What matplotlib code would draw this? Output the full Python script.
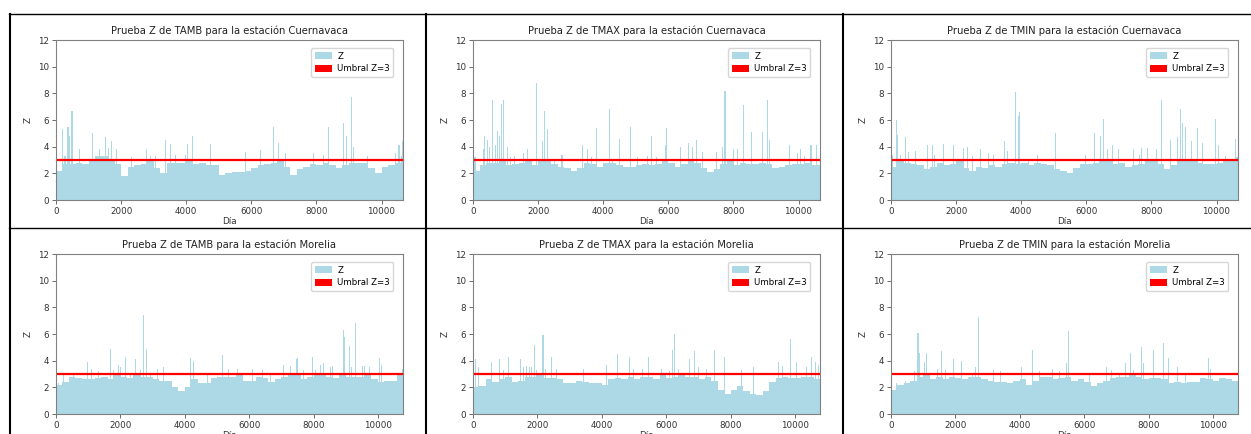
import matplotlib
matplotlib.use("Agg")
import matplotlib.pyplot as plt
from matplotlib.patches import Patch
from matplotlib.lines import Line2D

# ---------------- data ----------------
variables = ["TAMB", "TMAX", "TMIN"]
stations = ["Cuernavaca", "Morelia"]
days_total = {"Cuernavaca": 10660, "Morelia": 10780}
bin_days = 200
threshold = 3

# envelope of Z per 200-day bin
base_tamb_cuer = [2.2, 2.7, 2.7, 2.8, 2.7, 2.9, 3.3, 3.3, 3.0, 2.7, 1.8, 2.5, 2.6, 2.7, 2.9, 2.4, 2.0, 2.8,
                  2.8, 2.8, 2.9, 2.7, 2.8, 2.6, 2.6, 1.9, 2.0, 2.1, 2.1, 2.2, 2.4, 2.6, 2.7, 2.8, 3.0, 2.5,
                  1.9, 2.3, 2.5, 2.7, 2.6, 2.8, 2.6, 2.4, 2.6, 2.8, 2.8, 2.8, 2.4, 2.0, 2.5, 2.6, 2.8, 3.3]
base_tmax_cuer = [2.2, 2.6, 2.8, 2.8, 2.9, 2.6, 2.7, 2.8, 2.9, 2.6, 2.9, 2.9, 2.7, 2.5, 2.4, 2.2, 2.4, 2.8,
                  2.7, 2.5, 2.8, 2.8, 2.6, 2.5, 2.5, 2.6, 2.7, 2.6, 2.7, 2.9, 2.8, 2.5, 2.7, 2.9, 2.8, 2.4,
                  2.1, 2.3, 2.7, 2.9, 2.6, 2.8, 2.7, 2.7, 2.8, 2.7, 2.4, 2.5, 2.6, 2.7, 2.7, 2.8, 2.6, 2.6]
base_tmin_cuer = [2.5, 2.9, 2.8, 2.7, 2.6, 2.3, 2.5, 2.8, 2.6, 2.7, 2.9, 2.4, 2.2, 2.5, 2.4, 2.6, 2.5, 2.7,
                  2.8, 2.7, 2.8, 2.6, 2.8, 2.7, 2.6, 2.3, 2.2, 2.0, 2.4, 2.7, 2.7, 2.8, 2.9, 2.9, 2.7, 2.8,
                  2.5, 2.6, 2.7, 2.9, 2.9, 2.7, 2.3, 2.6, 2.9, 3.0, 2.9, 2.8, 2.7, 2.7, 2.8, 3.0, 2.9, 3.2]
base_tamb_more = [2.2, 2.4, 2.8, 2.7, 2.6, 2.6, 2.7, 2.8, 2.6, 2.9, 2.8, 2.7, 2.9, 2.8, 2.8, 2.6, 2.5, 2.5,
                  2.0, 1.7, 2.0, 2.6, 2.3, 2.3, 2.7, 2.8, 2.8, 2.8, 2.9, 2.5, 2.5, 2.8, 2.7, 2.4, 2.6, 2.8,
                  2.9, 2.9, 2.6, 2.8, 2.9, 2.9, 2.8, 2.7, 2.9, 2.8, 2.8, 2.8, 2.9, 2.6, 2.4, 2.5, 2.5, 2.9]
base_tmax_more = [2.0, 2.1, 2.6, 2.4, 2.6, 2.8, 2.4, 2.5, 2.8, 2.8, 2.9, 2.7, 2.7, 2.6, 2.3, 2.3, 2.5, 2.4,
                  2.3, 2.3, 2.2, 2.6, 2.7, 2.6, 2.8, 2.6, 2.8, 2.8, 2.6, 2.9, 2.7, 2.8, 2.9, 2.8, 2.8, 2.6,
                  2.8, 2.5, 1.8, 1.5, 1.8, 2.1, 1.7, 1.5, 1.4, 1.7, 2.4, 2.7, 2.8, 2.7, 2.7, 2.8, 2.8, 2.6]
base_tmin_more = [1.8, 2.2, 2.3, 2.5, 2.8, 2.9, 2.6, 2.8, 2.6, 2.8, 2.7, 2.6, 2.8, 2.8, 2.6, 2.5, 2.4, 2.4,
                  2.3, 2.5, 2.6, 2.2, 2.5, 2.8, 2.8, 2.6, 2.7, 2.8, 2.5, 2.6, 2.4, 2.1, 2.3, 2.5, 2.7, 2.8,
                  2.8, 2.9, 2.8, 2.6, 2.7, 2.7, 2.6, 2.3, 2.4, 2.3, 2.4, 2.4, 2.7, 2.6, 2.5, 2.7, 2.6, 2.5]

# individual peak days and their Z values
peak_days_tamb_cuer = [205, 277, 369, 410, 492, 708, 1129, 1334, 1508, 1611, 1713, 1867, 2329, 2791, 2893,
                       3047, 3375, 3509, 3683, 3970, 4053, 4207, 4740, 5817, 6279, 6690, 6823, 7049, 7900,
                       8208, 8362, 8844, 8926, 9080, 9152, 9583, 10434, 10537, 10640]
peak_z_tamb_cuer = [5.3, 3.3, 5.5, 4.8, 6.7, 3.8, 5.0, 3.8, 4.75, 3.9, 4.4, 3.8, 3.2, 3.8, 3.3,
                    3.3, 4.5, 4.2, 3.4, 3.4, 4.2, 4.8, 4.2, 3.6, 3.75, 5.5, 4.3, 3.5, 3.5,
                    3.4, 5.5, 5.8, 4.8, 7.7, 4.0, 3.3, 3.5, 4.1, 4.4]

peak_days_tmax_cuer = [61, 337, 367, 449, 500, 592, 704, 755, 826, 867, 928, 1061, 1163, 1285, 1540, 1673,
                       1948, 2122, 2204, 2285, 2510, 2734, 3376, 3529, 3652, 3805, 4192, 4294, 4498, 4824,
                       5059, 5365, 5477, 5651, 5926, 5957, 6385, 6620, 6752, 6875, 7048, 7487, 7660, 7742,
                       8017, 8140, 8323, 8558, 8884, 9037, 9108, 9731, 9955, 10057, 10190, 10383, 10567]
peak_z_tmax_cuer = [3.2, 3.8, 4.8, 4.5, 4.0, 7.5, 4.1, 5.2, 4.8, 7.2, 7.5, 4.0, 3.2, 3.3, 3.5, 3.8,
                    8.8, 4.4, 6.7, 5.3, 3.0, 3.4, 4.1, 3.8, 3.2, 5.4, 6.8, 3.0, 4.6, 5.5,
                    3.2, 3.3, 4.8, 3.2, 4.1, 5.4, 4.0, 4.3, 4.0, 4.5, 3.6, 3.6, 4.0, 8.2,
                    3.8, 3.8, 7.1, 5.1, 5.1, 7.5, 4.5, 4.1, 3.5, 3.8, 3.3, 4.1, 4.1]

peak_days_tmin_cuer = [31, 163, 204, 286, 459, 541, 745, 1132, 1285, 1336, 1612, 1918, 2224, 2346, 2499,
                       2754, 3009, 3162, 3499, 3580, 3835, 3907, 3937, 4233, 4488, 5049, 5967, 6253, 6426,
                       6518, 6640, 6793, 6997, 7446, 7630, 7701, 7885, 8170, 8323, 8599, 8803, 8884, 8955,
                       9037, 9241, 9414, 9567, 9955, 10057, 10282, 10588]
peak_z_tmin_cuer = [3.4, 6.0, 4.9, 3.4, 4.7, 3.6, 3.7, 4.1, 4.1, 3.4, 4.2, 4.1, 3.9, 4.0, 3.3,
                    3.8, 3.5, 3.4, 4.4, 3.7, 8.1, 6.3, 6.6, 3.1, 3.4, 5.0, 3.4, 5.0, 4.8,
                    6.1, 3.8, 4.1, 3.8, 3.8, 3.4, 3.9, 3.9, 3.8, 7.5, 4.5, 4.7, 6.8, 5.8,
                    5.5, 4.4, 5.4, 4.3, 6.1, 4.1, 3.3, 4.6]

peak_days_tamb_more = [83, 238, 549, 964, 1088, 1326, 1689, 1792, 1948, 2000, 2155, 2311, 2466, 2621, 2714,
                       2797, 2932, 3160, 3346, 4175, 4258, 4693, 5170, 5366, 5625, 6091, 6402, 6661, 7075,
                       7283, 7469, 7510, 7697, 7977, 8060, 8215, 8319, 8526, 8599, 8920, 8961, 9106, 9169,
                       9303, 9510, 9593, 9748, 10059, 10111, 10753]
peak_z_tamb_more = [2.3, 3.0, 3.1, 3.9, 3.4, 3.2, 4.9, 3.3, 3.7, 3.5, 4.3, 3.0, 4.1, 3.3, 7.4,
                    4.9, 3.0, 3.4, 3.5, 4.2, 4.0, 3.1, 4.4, 3.4, 3.4, 3.4, 3.3, 3.0, 3.7,
                    3.6, 4.1, 4.2, 3.3, 4.3, 3.3, 3.7, 3.8, 3.5, 3.6, 6.3, 5.8, 5.1, 3.5,
                    6.8, 3.6, 3.6, 3.5, 4.2, 3.7, 3.4]

peak_days_tmax_more = [72, 176, 570, 829, 933, 1088, 1481, 1554, 1658, 1761, 1813, 1896, 1968, 2175, 2248,
                       2435, 2590, 3419, 4144, 4486, 4869, 4994, 5253, 5460, 5853, 6112, 6185, 6247, 6392,
                       6734, 6889, 7014, 7252, 7511, 7801, 8340, 8723, 9479, 9603, 9862, 10048, 10359,
                       10514, 10639, 10722]
peak_z_tmax_more = [4.1, 3.5, 3.9, 4.1, 3.3, 4.3, 4.1, 3.5, 3.6, 3.5, 3.5, 5.2, 3.3, 5.9, 3.4,
                    4.3, 3.4, 3.4, 3.7, 4.5, 4.3, 3.4, 3.4, 4.3, 3.4, 3.2, 4.8, 6.0, 3.4,
                    4.1, 4.7, 3.5, 3.4, 4.8, 4.3, 3.3, 3.5, 3.9, 3.6, 5.6, 3.9, 3.5,
                    4.3, 3.9, 3.7]

peak_days_tmin_more = [176, 456, 715, 839, 881, 1036, 1088, 1450, 1575, 1679, 1937, 2176, 2528, 2631,
                       2704, 3181, 3409, 4061, 4403, 4600, 5025, 5222, 5460, 5501, 6154, 6703, 6838,
                       7087, 7273, 7449, 7532, 7791, 7842, 8153, 8464, 8619, 8909, 9137, 9862, 9914]
peak_z_tmin_more = [2.3, 2.5, 3.2, 6.1, 4.6, 3.9, 4.6, 3.4, 4.7, 3.3, 4.1, 4.0, 3.1, 3.5,
                    7.3, 3.3, 3.2, 3.5, 4.8, 3.2, 3.4, 3.2, 3.8, 6.2, 3.0, 3.5, 3.3,
                    3.1, 3.8, 4.6, 3.3, 5.0, 3.8, 4.8, 5.3, 4.2, 3.5, 3.1, 4.2, 3.4]

panels = {
    ("Cuernavaca", "TAMB"): (base_tamb_cuer, peak_days_tamb_cuer, peak_z_tamb_cuer),
    ("Cuernavaca", "TMAX"): (base_tmax_cuer, peak_days_tmax_cuer, peak_z_tmax_cuer),
    ("Cuernavaca", "TMIN"): (base_tmin_cuer, peak_days_tmin_cuer, peak_z_tmin_cuer),
    ("Morelia", "TAMB"): (base_tamb_more, peak_days_tamb_more, peak_z_tamb_more),
    ("Morelia", "TMAX"): (base_tmax_more, peak_days_tmax_more, peak_z_tmax_more),
    ("Morelia", "TMIN"): (base_tmin_more, peak_days_tmin_more, peak_z_tmin_more),
}

# ---------------- layout ----------------
W, H = 1251, 434
fig = plt.figure(figsize=(W / 100, H / 100), dpi=100)

col_left = [56, 473, 891]
ax_w = 347
row_top = [40, 254]
ax_h = 160

bar_color = "#ADD8E6"
spine_color = "#808080"

for r, station in enumerate(stations):
    for c, var in enumerate(variables):
        base, pdays, pz = panels[(station, var)]
        l = col_left[c] / W
        b = 1 - (row_top[r] + ax_h) / H
        ax = fig.add_axes([l, b, ax_w / W, ax_h / H])
        xs = [i * bin_days for i in range(len(base))]
        ax.bar(xs, base, width=bin_days, align="edge", color=bar_color, linewidth=0)
        ax.bar(pdays, pz, width=32, color=bar_color, linewidth=0)
        ax.axhline(threshold, color="red", lw=1.6)
        ax.set_xlim(0, days_total[station])
        ax.set_ylim(0, 12)
        ax.set_yticks(range(0, 13, 2))
        ax.set_xticks(range(0, 10001, 2000))
        ax.tick_params(labelsize=6.3, length=3, width=0.6, color="#555555",
                       labelcolor="#333333", pad=2)
        for s in ax.spines.values():
            s.set_color(spine_color)
            s.set_linewidth(0.8)
        ax.set_title(f"Prueba Z de {var} para la estación {station}", fontsize=7.2,
                     color="#222222", pad=4)
        ax.set_xlabel("Día", fontsize=6.3, color="#333333", labelpad=1)
        ax.set_ylabel("Z", fontsize=6.3, color="#333333", labelpad=4)
        handles = [Patch(facecolor=bar_color, edgecolor="none"),
                   Patch(facecolor="red", edgecolor="none")]
        ax.legend(handles, ["Z", f"Umbral Z={threshold}"], loc="upper right", fontsize=6.2,
                  frameon=True, framealpha=0.8, edgecolor="#cccccc", handlelength=2.0,
                  handleheight=0.9, borderpad=0.4, labelspacing=0.4, fancybox=True,
                  handletextpad=0.6, bbox_to_anchor=(0.985, 0.975))

# cell borders
def hline(y, x0, x1, lw):
    fig.add_artist(Line2D([x0 / W, x1 / W], [1 - y / H, 1 - y / H], color="black", lw=lw))

def vline(x, y0, y1, lw):
    fig.add_artist(Line2D([x / W, x / W], [1 - y0 / H, 1 - y1 / H], color="black", lw=lw))

hline(14, 9, W, 1.0)
hline(227.5, 9, W, 1.0)
for xv in (9.5, 426, 843.5):
    vline(xv, 14, H, 1.5)

fig.savefig("out.png", dpi=100)
